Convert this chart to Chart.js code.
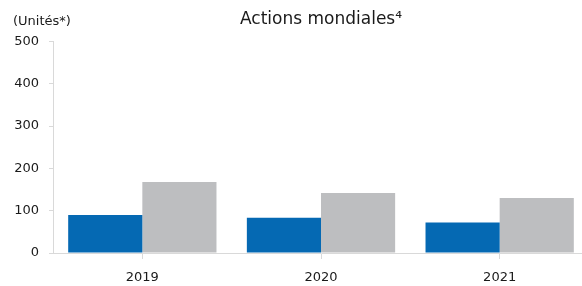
<!DOCTYPE html>
<html>
<head>
<meta charset="utf-8">
<script src="https://cdn.jsdelivr.net/npm/chart.js@4/dist/chart.umd.min.js"></script>
<style>
  html, body { margin: 0; padding: 0; background: #fff; overflow: hidden; }
  #wrap { width: 589px; height: 286px; position: relative; }
</style>
</head>
<body>
<div id="wrap"><canvas id="mycanvas"></canvas></div>
<script>
// values
var years = ['2019', '2020', '2021'];
var serieBleue = [90, 83, 72];
var serieGrise = [168, 142, 130];
var yTicks = [0, 100, 200, 300, 400, 500];

var titre = 'Actions mondiales\u2074';
var unite = '(Unités*)';

// small plugin for the unit label in the top left corner
var uniteLabel = {
  id: 'uniteLabel',
  afterDraw: function(chart) {
    var ctx = chart.ctx;
    ctx.save();
    ctx.font = '13px "DejaVu Sans"';
    ctx.fillStyle = '#1a1a1a';
    ctx.textAlign = 'left';
    ctx.textBaseline = 'middle';
    ctx.fillText(unite, 13, 22);
    ctx.restore();
  }
};

var chartdata = {
  labels: years,
  datasets: [
    {
      label: 'Série 1',
      backgroundColor: '#0569b3',
      data: serieBleue
    },
    {
      label: 'Série 2',
      backgroundColor: '#bdbec0',
      data: serieGrise
    }
  ]
};

var ctx = document.getElementById('mycanvas');
var barGraph = new Chart(ctx, {
  type: 'bar',
  data: chartdata,
  plugins: [uniteLabel],
  options: {
    responsive: true,
    maintainAspectRatio: false,
    animation: false,
    layout: { padding: 0 },
    datasets: {
      bar: { categoryPercentage: 0.83, barPercentage: 1.0 }
    },
    plugins: {
      legend: { display: false },
      tooltip: { enabled: false },
      title: {
        display: true,
        text: titre,
        fullSize: false,
        color: '#1a1a1a',
        font: { family: 'DejaVu Sans', size: 17, weight: 'normal' },
        padding: { top: 9, bottom: 12 }
      }
    },
    scales: {
      x: {
        grid: {
          display: true,
          drawOnChartArea: false,
          offset: false,
          tickLength: 6,
          color: '#d9d9d9'
        },
        border: { color: '#d9d9d9' },
        ticks: {
          color: '#1a1a1a',
          padding: 11,
          font: { family: 'DejaVu Sans', size: 13 }
        },
        afterFit: function(scale) { scale.height = 33; }
      },
      y: {
        min: 0,
        max: 500,
        afterBuildTicks: function(scale) {
          scale.ticks = yTicks.map(function(v) { return { value: v }; });
        },
        grid: {
          display: true,
          drawOnChartArea: false,
          tickLength: 4,
          color: '#d9d9d9'
        },
        border: { color: '#d9d9d9' },
        ticks: {
          color: '#1a1a1a',
          padding: 10,
          font: { family: 'DejaVu Sans', size: 13 }
        },
        afterFit: function(scale) { scale.width = 53; }
      }
    }
  }
});
</script>
</body>
</html>
